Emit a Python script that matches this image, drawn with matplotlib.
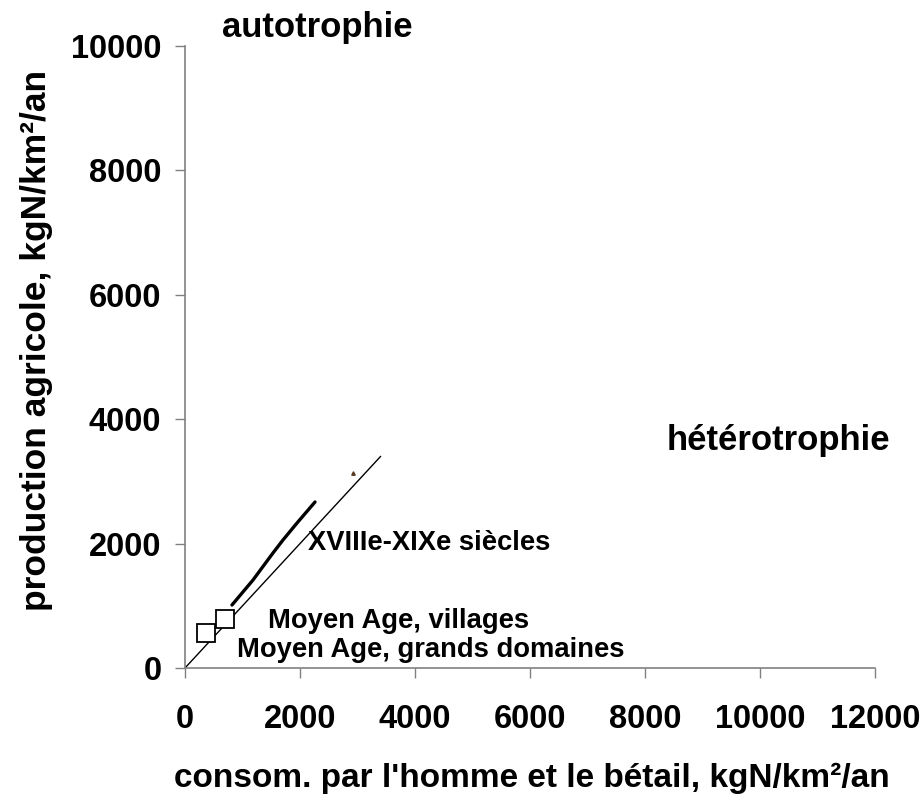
import matplotlib
matplotlib.use("Agg")
import matplotlib.pyplot as plt

plt.rcParams['font.family'] = ['Liberation Sans', 'DejaVu Sans']
plt.rcParams['font.weight'] = 'bold'

# 1:1 line
diag_x = [0, 3400]
diag_y = [0, 3400]

# XVIIIe-XIXe trajectory
traj_x = [817, 1183, 1530, 1704, 1948, 2261]
traj_y = [1013, 1415, 1849, 2058, 2331, 2669]

# Moyen Age points
ma_x = [365, 700]
ma_y = [565, 790]

# small isolated mark
odd_x = [2920]
odd_y = [3130]

fig = plt.figure(figsize=(9.24, 7.98), dpi=100)
ax = fig.add_axes([185/924, 1-668/798, 690/924, 622/798])

ax.plot(diag_x, diag_y, color='black', lw=1.0)
ax.plot(traj_x, traj_y, color='black', lw=2.4, solid_capstyle='round')
ax.plot(ma_x, ma_y, ls='none', marker='s', ms=12.5, mfc='white', mec='black', mew=1.3)
ax.plot(odd_x, odd_y, ls='none', marker='^', ms=2.5, color='#5a3a20')

ax.set_xlim(0, 12000)
ax.set_ylim(0, 10000)
ax.set_xticks(range(0, 12001, 2000))
ax.set_yticks(range(0, 10001, 2000))
ax.tick_params(labelsize=23.5, length=7, width=1, color='#808080')
ax.tick_params(axis='x', pad=19)
ax.tick_params(axis='y', pad=10)
for lab in ax.get_xticklabels() + ax.get_yticklabels():
    lab.set_fontweight('bold')
for s in ['top', 'right']:
    ax.spines[s].set_visible(False)
for s in ['left', 'bottom']:
    ax.spines[s].set_color('#808080')
    ax.spines[s].set_linewidth(1.2)

ax.set_xlabel("consom. par l'homme et le bétail, kgN/km²/an", fontsize=24, fontweight='bold')
ax.set_ylabel("production agricole, kgN/km²/an", fontsize=25.5, fontweight='bold')
ax.xaxis.set_label_coords((532-185)/690, -(763-668)/622)
ax.yaxis.set_label_coords(-(185-53)/690, (668-340)/622)

ax.text(643, 10290, "autotrophie", fontsize=25, fontweight='bold', va='center')
ax.text(8383, 3650, "hétérotrophie", fontsize=25, fontweight='bold', va='center')
ax.text(2139, 2010, "XVIIIe-XIXe siècles", fontsize=19.7, fontweight='bold', va='center')
ax.text(1443, 756, "Moyen Age, villages", fontsize=19.7, fontweight='bold', va='center')
ax.text(904, 289, "Moyen Age, grands domaines", fontsize=19.7, fontweight='bold', va='center')

fig.savefig('out.png', dpi=100)
